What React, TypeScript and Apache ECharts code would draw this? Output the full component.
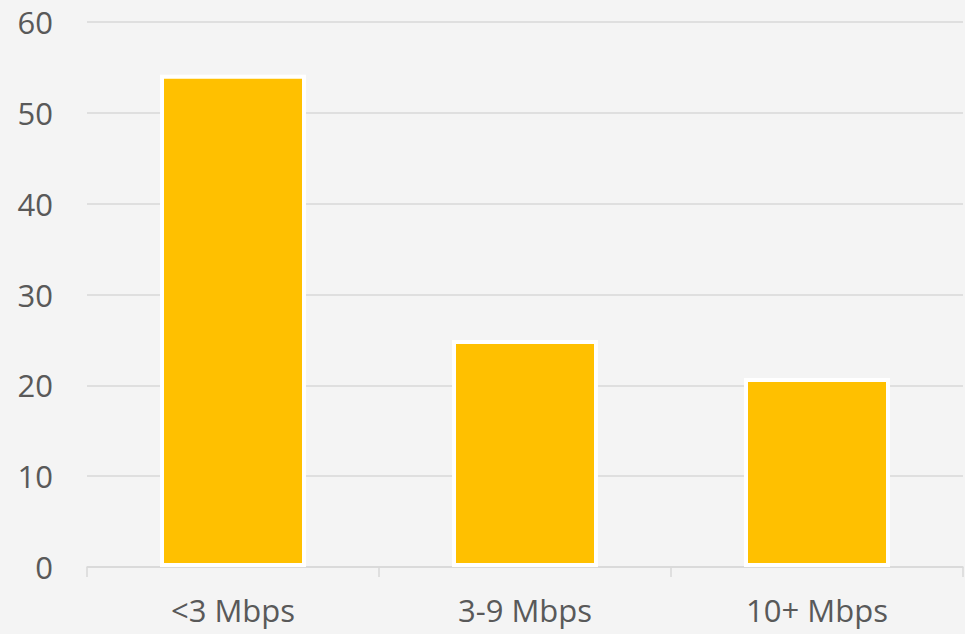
import React, { useEffect, useRef } from "react";
import * as echarts from "echarts";

const categories = ["<3 Mbps", "3-9 Mbps", "10+ Mbps"];
const values = [54.2, 25.0, 20.8];
const yTicks = { min: 0, max: 60, interval: 10 };

export default function App() {
  const ref = useRef<HTMLDivElement>(null);
  useEffect(() => {
    if (!ref.current) return;
    const chart = echarts.init(ref.current, undefined, { renderer: "svg" });
    const font = "'Segoe UI', 'Open Sans', sans-serif";
    chart.setOption({
      animation: false,
      backgroundColor: "#f4f4f4",
      grid: { left: 87, right: 2, top: 22, bottom: 67, containLabel: false },
      xAxis: {
        type: "category",
        data: categories,
        axisLine: { show: true, lineStyle: { color: "#d9d9d9", width: 1.5 } },
        axisTick: { show: true, alignWithLabel: false, length: 10, lineStyle: { color: "#d9d9d9", width: 1.5 } },
        axisLabel: { color: "#595959", fontSize: 31, fontFamily: font, margin: 27 },
        splitLine: { show: false },
      },
      yAxis: {
        type: "value",
        min: yTicks.min,
        max: yTicks.max,
        interval: yTicks.interval,
        axisLine: { show: false },
        axisTick: { show: false },
        axisLabel: { color: "#595959", fontSize: 31, fontFamily: font, margin: 34 },
        splitLine: { lineStyle: { color: "#d9d9d9", width: 1.5 } },
      },
      series: [
        {
          type: "bar",
          data: values,
          barWidth: 146,
          itemStyle: { color: "#ffc000", borderColor: "#ffffff", borderWidth: 4 },
        },
      ],
    });
    return () => chart.dispose();
  }, []);
  return <div ref={ref} style={{ width: 965, height: 634, position: "absolute", left: 0, top: 0 }} />;
}
